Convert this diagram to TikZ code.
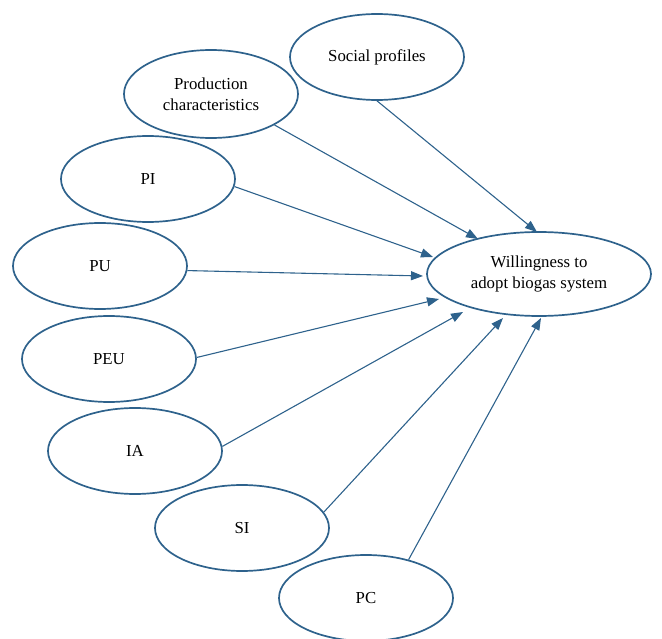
\documentclass[tikz,border=0pt]{standalone}
\usepackage{fontspec}
\setmainfont{Liberation Serif}
\usetikzlibrary{arrows.meta,calc,shapes.geometric}
\definecolor{edgeblue}{RGB}{46,98,140}
\begin{document}
\begin{tikzpicture}[x=1pt,y=-1pt,
  oval/.style={ellipse, draw=edgeblue, line width=1.7pt, inner sep=0pt,
    minimum width=174pt, minimum height=86pt, align=center,
    font=\fontsize{16.8}{21}\selectfont},
  arr/.style={draw=edgeblue, line width=1.1pt,
    -{Triangle[length=12pt,width=9pt]}, edgeblue}]
\useasboundingbox (0,0) rectangle (662,639);
\node[oval] (soc) at (377,57) {Social profiles};
\node[oval, minimum height=88pt] (prod) at (211,94) {Production\\characteristics};
\node[oval] (pi) at (148,179) {PI};
\node[oval] (pu) at (100,266) {PU};
\node[oval] (peu) at (109,359) {PEU};
\node[oval] (ia) at (135,451) {IA};
\node[oval] (si) at (242,528) {SI};
\node[oval] (pc) at (366,598) {PC};
\node[oval, minimum width=224pt, minimum height=84pt] (wil) at (539,274) {Willingness to\\adopt biogas system};
\draw[arr] (soc.south) -- ($(wil.center)+(-2,-42)$);
\draw[arr] (prod.334) -- ($(wil.center)+(-61,-35)$);
\draw[arr] (pi.355) -- ($(wil.center)+(-106,-17)$);
\draw[arr] (pu.357) -- ($(wil.center)+(-116,2)$);
\draw[arr] (peu.1) -- ($(wil.center)+(-100,25)$);
\draw[arr] (ia.3) -- ($(wil.center)+(-76,38)$);
\draw[arr] (si.11) -- ($(wil.center)+(-36,44)$);
\draw[arr] (pc.42) -- ($(wil.center)+(2,44)$);
\end{tikzpicture}
\end{document}
